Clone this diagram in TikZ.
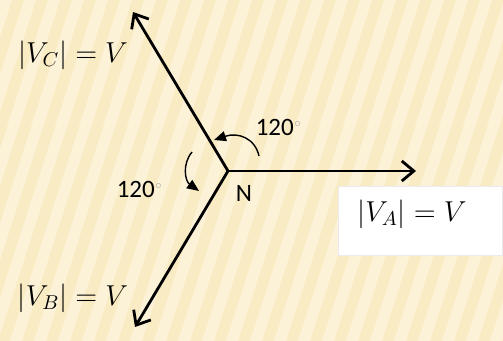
\documentclass[tikz,border=0pt]{standalone}
\usepackage{fontspec}
\setsansfont{Carlito}
\usetikzlibrary{arrows.meta,positioning}
\definecolor{cBgA}{HTML}{F9EBC3}
\definecolor{cBgB}{HTML}{FCF2D7}
\definecolor{cDeg}{HTML}{A8A8A8}
\tikzset{
  phasor/.style={-{Straight Barb[length=6pt,width=10pt,line width=1.4pt]}, line width=1.4pt, draw=black},
  turn/.style={-{Triangle[length=6pt,width=5pt]}, line width=0.7pt, draw=black},
  mag/.style={font=\fontsize{14}{16}\selectfont, inner sep=1pt},
  ang/.style={font=\sffamily\fontsize{12.5}{14}\selectfont, inner sep=1pt},
  valbox/.style={fill=white, draw=black!8, minimum width=82pt, minimum height=34.5pt, inner sep=0pt},
}
\newcommand{\degmark}{\textsuperscript{\color{cDeg}\tiny$\circ$}}
\begin{document}
\begin{tikzpicture}[x=0.5pt,y=-0.5pt]
\useasboundingbox (0,0) rectangle (503,341);
% striped background
\begin{scope}
\clip (0,0) rectangle (503,341);
\fill[cBgA] (0,0) rectangle (503,341);
\foreach \i in {-2,...,26}
  \fill[cBgB] ({\i*24},0) -- ({\i*24+12},0) -- ({\i*24+12-110},341) -- ({\i*24-110},341) -- cycle;
\end{scope}
% value box for phase A
\node[valbox] (boxA) at (420,221) {};
% phasors
\coordinate (N) at (228,171);
\coordinate (A) at (416,171);
\coordinate (B) at (135,327);
\coordinate (C) at (133,12);
\draw[phasor] (N) -- (A);
\draw[phasor] (N) -- (B);
\draw[phasor] (N) -- (C);
% rotation arrows
\coordinate (r1s) at (259,156);
\coordinate (r1e) at (214,140);
\coordinate (r2s) at (192,152);
\coordinate (r2e) at (199,191);
\draw[turn] (r1s) .. controls (255,138) and (238,132) .. (r1e);
\draw[turn] (r2s) .. controls (182,164) and (185,181) .. (r2e);
% labels
\node[ang] (nN) at (244,193) {N};
\node[ang] (a1) at (279,127) {120\degmark};
\node[ang] (a2) at (140,189) {120\degmark};
\node[mag] (lC) at (73,55) {$|V_C| = V$};
\node[mag] (lB) at (73,298) {$|V_B| = V$};
\node[mag] (lA) at (412,214) {$|V_A| = V$};
\end{tikzpicture}
\end{document}
